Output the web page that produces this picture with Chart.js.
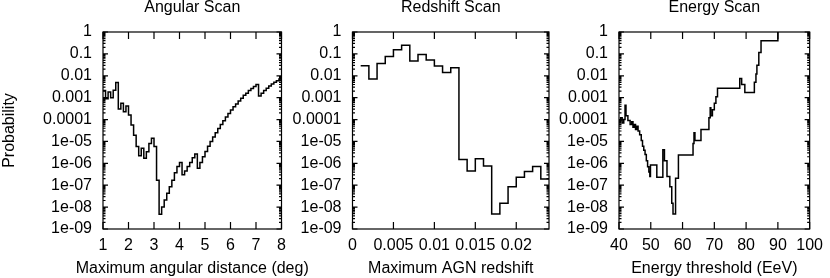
<!DOCTYPE html>
<html>
<head>
<meta charset="utf-8">
<script src="https://cdn.jsdelivr.net/npm/chart.js@4"></script>
<style>
  body { margin: 0; background: #fff; }
  #wrap { position: relative; width: 830px; height: 278px; overflow: hidden; }
  #wrap canvas { position: absolute; top: 0; }
</style>
</head>
<body>
<div id="wrap">
  <canvas id="angular" width="330" height="278" style="left:0px"></canvas>
  <canvas id="redshift" width="266" height="278" style="left:290px"></canvas>
  <canvas id="energy" width="272" height="278" style="left:558px"></canvas>
</div>
<script>
// y axis (shared by the three panels)
const yTickValues = [1e-9, 1e-8, 1e-7, 1e-6, 1e-5, 1e-4, 1e-3, 1e-2, 1e-1, 1];
const yTickLabels = ["1e-09", "1e-08", "1e-07", "1e-06", "1e-05", "0.0001", "0.001", "0.01", "0.1", "1"];

// Angular scan: left edge of each step (deg), last entry closes the final step
const angleEdges = [1.0, 1.1, 1.2, 1.3, 1.4, 1.5, 1.6, 1.7, 1.8, 1.9,
  2.0, 2.1, 2.2, 2.3, 2.4, 2.5, 2.6, 2.7, 2.8, 2.9,
  3.0, 3.1, 3.2, 3.3, 3.4, 3.5, 3.6, 3.7, 3.8, 3.9,
  4.0, 4.1, 4.2, 4.3, 4.4, 4.5, 4.6, 4.7, 4.8, 4.9,
  5.0, 5.1, 5.2, 5.3, 5.4, 5.5, 5.6, 5.7, 5.8, 5.9,
  6.0, 6.1, 6.2, 6.3, 6.4, 6.5, 6.6, 6.7, 6.8, 6.9,
  7.0, 7.1, 7.2, 7.3, 7.4, 7.5, 7.6, 7.7, 7.8, 7.9, 8.0];
const angularProb = [2.1e-3, 8.9e-4, 1.8e-3, 1.0e-3, 2.2e-3, 4.9e-3, 3.0e-4, 5.5e-4, 2.3e-4, 4.2e-4,
  1.6e-4, 5.6e-5, 1.9e-5, 5.8e-6, 2.2e-6, 4.9e-6, 1.7e-6, 3.4e-6, 8.1e-6, 1.4e-5,
  5.8e-6, 1.7e-7, 4.7e-9, 1.0e-8, 2.1e-8, 4.3e-8, 8.5e-8, 1.7e-7, 3.7e-7, 7.1e-7,
  1.1e-6, 3.0e-7, 4.5e-7, 7.1e-7, 1.1e-6, 1.8e-6, 2.7e-6, 5.9e-7, 1.1e-6, 2.0e-6,
  3.5e-6, 6.0e-6, 1.0e-5, 1.6e-5, 2.5e-5, 3.9e-5, 5.9e-5, 8.9e-5, 1.3e-4, 1.9e-4,
  2.7e-4, 3.8e-4, 5.2e-4, 7.1e-4, 9.5e-4, 1.3e-3, 1.6e-3, 2.1e-3, 2.6e-3, 3.2e-3,
  4.0e-3, 1.2e-3, 1.6e-3, 2.1e-3, 2.7e-3, 3.4e-3, 4.2e-3, 5.0e-3, 6.0e-3, 7.1e-3];

// Redshift scan
const redshiftEdges = [0.001, 0.002, 0.003, 0.004, 0.005, 0.006, 0.007, 0.008, 0.009, 0.010,
  0.011, 0.012, 0.013, 0.014, 0.015, 0.016, 0.017, 0.018, 0.019, 0.020,
  0.021, 0.022, 0.023, 0.024];
const redshiftProb = [0.029, 0.0071, 0.036, 0.075, 0.155, 0.246, 0.047, 0.095, 0.053, 0.028,
  0.014, 0.023, 1.5e-6, 4.5e-7, 1.6e-6, 7.6e-7, 4.9e-9, 1.5e-8, 8.6e-8, 2.3e-7,
  4.2e-7, 7.1e-7, 1.9e-7];

// Energy scan
const energyEdges = [40.0, 40.5, 41.0, 41.5, 41.9, 42.2, 42.8, 43.5, 44.0, 44.4,
  44.8, 45.2, 45.6, 46.0, 46.5, 47.0, 47.4, 47.8, 48.2, 48.6,
  49.0, 49.4, 49.7, 49.9, 51.9, 53.8, 54.3, 55.1, 56.0, 56.6,
  57.0, 57.8, 58.7, 63.3, 63.6, 63.9, 65.8, 68.3, 68.7, 68.9,
  69.4, 70.0, 70.5, 71.0, 78.0, 78.6, 79.6, 82.6, 83.1, 83.4,
  84.0, 84.7, 90.0];
const energyProb = [9e-5, 1.2e-4, 7e-5, 1.0e-4, 4.5e-4, 1.5e-4, 9e-5, 6e-5, 8e-5, 4.5e-5,
  6e-5, 3.5e-5, 5e-5, 3e-5, 2e-5, 1.1e-5, 6e-6, 4e-6, 2.5e-6, 1.3e-6,
  7e-7, 4e-7, 2.5e-7, 8.3e-7, 2.3e-7, 4.2e-6, 1.3e-6, 2.5e-7, 8.5e-8, 1.5e-8,
  4.9e-9, 2.1e-7, 2.4e-6, 8e-6, 2.5e-5, 1.1e-5, 3.5e-5, 1.2e-4, 3.5e-4, 1.5e-4,
  2.8e-4, 5.5e-4, 1.1e-3, 2.7e-3, 7.6e-3, 4.0e-3, 1.7e-3, 5e-3, 1.2e-2, 3e-2,
  1.15e-1, 0.4, 1.0];

Chart.defaults.font.family = '"Liberation Sans", Arial, sans-serif';
Chart.defaults.font.size = 16;
Chart.defaults.color = '#000';

// frame with inward ticks on all four sides, plus the x axis caption
const frameTicks = {
  id: 'frameTicks',
  afterDatasetsDraw(chart, args, opts) {
    const ctx = chart.ctx, a = chart.chartArea;
    const xs = chart.scales.x, ys = chart.scales.y;
    ctx.save();
    ctx.strokeStyle = '#000';
    ctx.lineWidth = 1.2;
    ctx.beginPath();
    xs.ticks.forEach(t => {
      const px = xs.getPixelForValue(t.value);
      ctx.moveTo(px, a.bottom); ctx.lineTo(px, a.bottom - 7);
      ctx.moveTo(px, a.top); ctx.lineTo(px, a.top + 7);
    });
    ys.ticks.forEach(t => {
      const py = ys.getPixelForValue(t.value);
      ctx.moveTo(a.left, py); ctx.lineTo(a.left + 5, py);
      ctx.moveTo(a.right, py); ctx.lineTo(a.right - 5, py);
      if (t.value < 1) {
        for (let m = 2; m <= 9; m++) {
          const pm = ys.getPixelForValue(t.value * m);
          ctx.moveTo(a.left, pm); ctx.lineTo(a.left + 2.5, pm);
          ctx.moveTo(a.right, pm); ctx.lineTo(a.right - 2.5, pm);
        }
      }
    });
    ctx.stroke();
    ctx.strokeRect(a.left, a.top, a.right - a.left, a.bottom - a.top);

    ctx.fillStyle = '#000';
    ctx.font = '16px "Liberation Sans", Arial, sans-serif';
    ctx.textAlign = 'center';
    ctx.textBaseline = 'middle';
    ctx.fillText(opts.xTitle, (a.left + a.right) / 2, 269);
    ctx.restore();
  }
};

function stepPoints(edges, vals) {
  return edges.map((x, i) => ({ x: x, y: vals[Math.min(i, vals.length - 1)] }));
}

function makePanel(id, opt) {
  return new Chart(document.getElementById(id), {
    type: 'line',
    data: {
      datasets: [{
        data: stepPoints(opt.edges, opt.vals),
        stepped: true,
        borderColor: '#000',
        borderWidth: 1.5,
        pointRadius: 0,
        fill: false
      }]
    },
    options: {
      responsive: false,
      animation: false,
      layout: { padding: { left: 0, right: opt.padRight, top: 0, bottom: 0 } },
      plugins: {
        legend: { display: false },
        tooltip: { enabled: false },
        title: {
          display: true,
          text: opt.title,
          fullSize: false,
          font: { size: 16, weight: 'normal', lineHeight: 1 },
          padding: { top: 0, bottom: 16 }
        },
        frameTicks: { xTitle: opt.xTitle }
      },
      scales: {
        x: {
          type: 'linear',
          min: opt.xMin,
          max: opt.xMax,
          grid: { display: false, drawTicks: false },
          border: { display: false },
          ticks: {
            stepSize: opt.xStep,
            includeBounds: false,
            autoSkip: false,
            maxRotation: 0,
            padding: 7,
            callback: v => String(parseFloat(v.toFixed(4)))
          },
          afterFit: s => { s.height = 49; }
        },
        y: {
          type: 'logarithmic',
          min: 1e-9,
          max: 1,
          grid: { display: false, drawTicks: false },
          border: { display: false },
          afterBuildTicks: s => { s.ticks = yTickValues.map(v => ({ value: v })); },
          ticks: {
            autoSkip: false,
            padding: 11,
            callback: (v, i) => yTickLabels[i]
          },
          title: { display: !!opt.yTitle, text: opt.yTitle || '', padding: 0 },
          afterFit: s => { s.width = opt.yWidth; }
        }
      }
    },
    plugins: [frameTicks]
  });
}

makePanel('angular', {
  edges: angleEdges, vals: angularProb, title: 'Angular Scan',
  xTitle: 'Maximum angular distance (deg)', yTitle: 'Probability',
  xMin: 1, xMax: 8, xStep: 1, yWidth: 103, padRight: 48.5
});
makePanel('redshift', {
  edges: redshiftEdges, vals: redshiftProb, title: 'Redshift Scan',
  xTitle: 'Maximum AGN redshift',
  xMin: 0, xMax: 0.024, xStep: 0.005, yWidth: 62.5, padRight: 7
});
makePanel('energy', {
  edges: energyEdges, vals: energyProb, title: 'Energy Scan',
  xTitle: 'Energy threshold (EeV)',
  xMin: 40, xMax: 100, xStep: 10, yWidth: 61, padRight: 15
});
</script>
</body>
</html>
